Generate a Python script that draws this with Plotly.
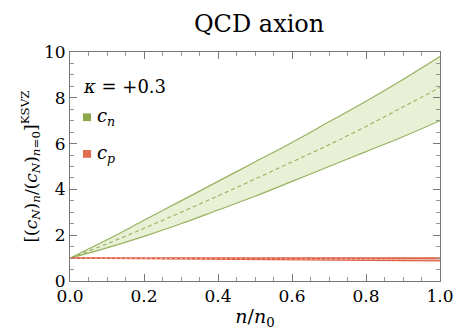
import plotly.graph_objects as go

# density ratio n/n0
n_ratio = [0.0, 0.1, 0.2, 0.3, 0.4, 0.5, 0.6, 0.7, 0.8, 0.9, 1.0]

# neutron coupling ratio: band edges and central value
cn_upper = [1.0, 1.8, 2.65, 3.5, 4.35, 5.2, 6.05, 6.95, 7.85, 8.8, 9.8]
cn_lower = [1.0, 1.45, 1.95, 2.5, 3.1, 3.7, 4.35, 5.0, 5.65, 6.3, 7.0]
cn_mid = [1.0, 1.62, 2.3, 3.0, 3.72, 4.45, 5.2, 5.95, 6.75, 7.6, 8.45]

# proton coupling ratio: band edges and central value
cp_upper = [1.0, 1.0, 1.0, 1.0, 1.0, 1.0, 1.0, 1.0, 1.0, 1.0, 1.0]
cp_lower = [1.0, 0.99, 0.98, 0.97, 0.96, 0.94, 0.93, 0.92, 0.91, 0.9, 0.88]
cp_mid = [1.0, 0.995, 0.99, 0.985, 0.98, 0.97, 0.965, 0.96, 0.955, 0.95, 0.94]

GREEN_LINE = "rgb(150,178,95)"
GREEN_FILL = "rgba(205,222,165,0.45)"
GREEN_KEY = "rgb(140,170,75)"
RED_LINE = "rgb(222,95,70)"
RED_FILL = "rgba(230,130,100,0.6)"
RED_KEY = "rgb(225,110,80)"
FRAME = "rgb(120,120,120)"
SERIF = "DejaVu Serif"

fig = go.Figure()

# neutron band
fig.add_trace(go.Scatter(x=n_ratio, y=cn_lower, mode="lines", line=dict(color=GREEN_LINE, width=1.2),
                         line_shape="spline", showlegend=False, hoverinfo="skip"))
fig.add_trace(go.Scatter(x=n_ratio, y=cn_upper, mode="lines", line=dict(color=GREEN_LINE, width=1.2),
                         line_shape="spline", fill="tonexty", fillcolor=GREEN_FILL,
                         showlegend=False, hoverinfo="skip"))
fig.add_trace(go.Scatter(x=n_ratio, y=cn_mid, mode="lines", line=dict(color=GREEN_LINE, width=1.1, dash="4px,3px"),
                         line_shape="spline", showlegend=False, hoverinfo="skip"))

# proton band
fig.add_trace(go.Scatter(x=n_ratio, y=cp_lower, mode="lines", line=dict(color=RED_LINE, width=1.2),
                         showlegend=False, hoverinfo="skip"))
fig.add_trace(go.Scatter(x=n_ratio, y=cp_upper, mode="lines", line=dict(color=RED_LINE, width=1.6),
                         fill="tonexty", fillcolor=RED_FILL, showlegend=False, hoverinfo="skip"))
fig.add_trace(go.Scatter(x=n_ratio, y=cp_mid, mode="lines", line=dict(color="rgb(245,190,170)", width=1, dash="2px,3px"),
                         showlegend=False, hoverinfo="skip"))

fig.update_xaxes(
    range=[0, 1], tickmode="linear", tick0=0, dtick=0.2, tickformat=".1f",
    showgrid=False, zeroline=False, showline=True, linecolor=FRAME, linewidth=1, mirror="ticks",
    ticks="inside", ticklen=7, tickcolor=FRAME, tickwidth=1,
    minor=dict(ticks="inside", tickmode="linear", tick0=0, dtick=0.05, ticklen=4,
               tickcolor="rgb(150,150,150)", tickwidth=1, showgrid=False),
    tickfont=dict(family=SERIF, size=17, color="black"),
    title=dict(text="<i>n</i>/<i>n</i><sub>0</sub>", font=dict(family=SERIF, size=19, color="black"), standoff=4),
)
fig.update_yaxes(
    range=[0, 10], tickmode="linear", tick0=0, dtick=2,
    showgrid=False, zeroline=False, showline=True, linecolor=FRAME, linewidth=1, mirror="ticks",
    ticks="inside", ticklen=7, tickcolor=FRAME, tickwidth=1,
    minor=dict(ticks="inside", tickmode="linear", tick0=0, dtick=0.5, ticklen=4,
               tickcolor="rgb(150,150,150)", tickwidth=1, showgrid=False),
    tickfont=dict(family=SERIF, size=17, color="black"),
    title=dict(text="[(<i>c<sub>N</sub></i>)<sub><i>n</i></sub>/(<i>c<sub>N</sub></i>)<sub><i>n</i>=0</sub>]<sup>KSVZ</sup>",
               font=dict(family=SERIF, size=17, color="black"), standoff=2),
)

# key: kappa label and coloured squares
fig.add_annotation(xref="paper", yref="paper", x=0.03, y=0.85, xanchor="left", yanchor="middle",
                   text="<i>κ</i> = +0.3", showarrow=False, font=dict(family=SERIF, size=18, color="black"))
for ypos, col, lab in [(0.715, GREEN_KEY, "<i>c<sub>n</sub></i>"), (0.555, RED_KEY, "<i>c<sub>p</sub></i>")]:
    fig.add_shape(type="rect", xref="paper", yref="paper",
                  x0=0.035, x1=0.057, y0=ypos - 0.017, y1=ypos + 0.017,
                  fillcolor=col, line=dict(width=0))
    fig.add_annotation(xref="paper", yref="paper", x=0.068, y=ypos, xanchor="left", yanchor="middle",
                       text=lab, showarrow=False, font=dict(family=SERIF, size=18, color="black"))

fig.update_layout(
    width=466, height=336,
    margin=dict(l=70, r=17, t=52, b=51),
    paper_bgcolor="white", plot_bgcolor="white",
    title=dict(text="QCD axion", x=0.556, xanchor="center", y=0.93, yanchor="middle",
               font=dict(family=SERIF, size=24, color="black")),
    showlegend=False,
)

fig.write_html("out.html")
